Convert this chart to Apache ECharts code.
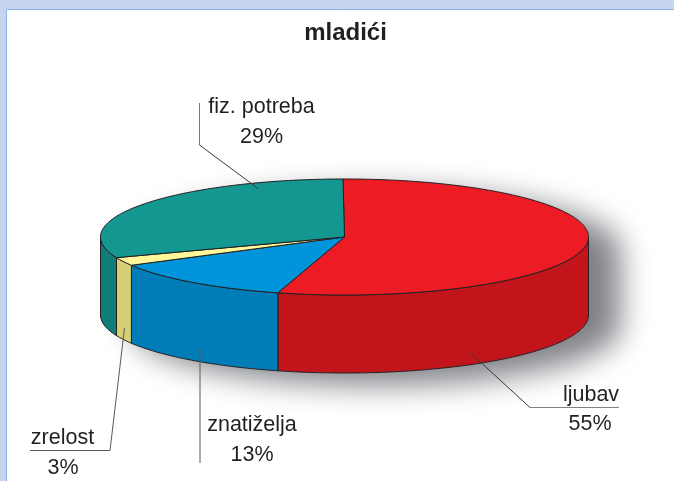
<!DOCTYPE html>
<html>
<head>
<meta charset="utf-8">
<style>
  html, body { margin: 0; padding: 0; background: #c5d5ee; }
  #chart { width: 674px; height: 481px; }
</style>
</head>
<body>
<div id="chart"></div>
<script src="https://cdn.jsdelivr.net/npm/echarts@6/dist/echarts.min.js"></script>
<script>
const chartTitle = "mladići";
const categories = ["ljubav", "znatiželja", "zrelost", "fiz. potreba"];
const percents = [55, 13, 3, 29];
// the artwork's wedges are not cut exactly to the printed numbers, these are read off the drawing
const drawnShares = [54.5, 12.5, 2.3, 30.7];
const topColors = ["#ed1c24", "#0095da", "#fff799", "#149691"];
const sideColors = ["#c1151b", "#007db7", "#d7cf73", "#0f7e79"];

const cx = 344.5, cy = 237, rx = 244, ry = 58, depth = 78;
const startDeg = -0.35;
const lineColor = "#231f20";
const textFont = "Liberation Sans, Arial, sans-serif";

// angle 0 is the back of the pie, going clockwise
function rimPoint(deg, drop) {
  const t = deg * Math.PI / 180;
  return [cx + rx * Math.sin(t), cy - ry * Math.cos(t) + (drop || 0)];
}

function arc(from, to, drop) {
  const pts = [];
  const n = Math.max(2, Math.ceil(Math.abs(to - from)));
  for (let i = 0; i <= n; i++) pts.push(rimPoint(from + (to - from) * i / n, drop));
  return pts;
}

const spans = [];
let acc = startDeg;
drawnShares.forEach((s) => {
  spans.push([acc, acc + s * 3.6]);
  acc += s * 3.6;
});

function renderShadow() {
  const pts = arc(-90, 90, 0).concat(arc(90, 270, depth));
  return {
    type: "polygon",
    shape: { points: pts },
    style: {
      fill: "#fff",
      shadowColor: "rgba(128,130,135,1)",
      shadowBlur: 30,
      shadowOffsetX: 32,
      shadowOffsetY: 12
    }
  };
}

function renderSide(params) {
  const i = params.dataIndex;
  const a = Math.max(spans[i][0], 90), b = Math.min(spans[i][1], 270);
  if (a >= b) return null;
  return {
    type: "polygon",
    shape: { points: arc(a, b, 0).concat(arc(b, a, depth)) },
    style: { fill: sideColors[i], stroke: lineColor, lineWidth: 1, lineJoin: "round" }
  };
}

function renderTop(params) {
  const i = params.dataIndex;
  return {
    type: "polygon",
    shape: { points: [[cx, cy]].concat(arc(spans[i][0], spans[i][1], 0)) },
    style: { fill: topColors[i], stroke: lineColor, lineWidth: 1, lineJoin: "round" }
  };
}

function leader(points, color) {
  return {
    type: "polyline",
    z: 20,
    shape: { points: points },
    style: { fill: null, stroke: color || "#3a3a3c", lineWidth: 1 },
    silent: true
  };
}

function label(text, x, baseline, align) {
  return {
    type: "text",
    z: 21,
    x: x,
    y: baseline,
    style: {
      text: text,
      fill: lineColor,
      font: "21.5px " + textFont,
      align: align || "center",
      verticalAlign: "bottom"
    }
  };
}

const chart = echarts.init(document.getElementById("chart"), null, { renderer: "canvas" });
chart.setOption({
  animation: false,
  backgroundColor: "#c5d5ee",
  title: {
    text: chartTitle,
    left: 340.5,
    top: 16,
    textAlign: "center",
    textStyle: { color: lineColor, fontFamily: textFont, fontWeight: "bold", fontSize: 24 }
  },
  graphic: [
    {
      type: "rect",
      z: -1,
      shape: { x: 6.5, y: 9.5, width: 720, height: 520 },
      style: { fill: "#fff", stroke: "#8fb3e8", lineWidth: 1 }
    },
    // leader lines
    leader([[199.5, 103], [199.5, 145]], "#77787b"),
    leader([[199.5, 145], [258, 188.5]]),
    leader([[200, 348], [200, 463]], "#58595b"),
    leader([[30, 450.5], [110, 450.5], [124.5, 328]], "#58595b"),
    leader([[619, 407.5], [530, 407.5]], "#808285"),
    leader([[530, 407.5], [469.5, 352]]),
    // labels
    label(categories[3], 261.5, 118),
    label(percents[3] + "%", 261.5, 148),
    label(categories[1], 252, 436),
    label(percents[1] + "%", 252, 466),
    label(categories[2], 62.5, 449.5),
    label(percents[2] + "%", 63, 479.5),
    label(categories[0], 591, 406.5),
    label(percents[0] + "%", 590, 435.5)
  ],
  series: [
    { type: "custom", coordinateSystem: "none", silent: true, z: 1, data: [0], renderItem: renderShadow },
    { type: "custom", coordinateSystem: "none", silent: true, z: 2, data: drawnShares, renderItem: renderSide },
    { type: "custom", coordinateSystem: "none", silent: true, z: 3, data: drawnShares, renderItem: renderTop }
  ]
});
</script>
</body>
</html>
